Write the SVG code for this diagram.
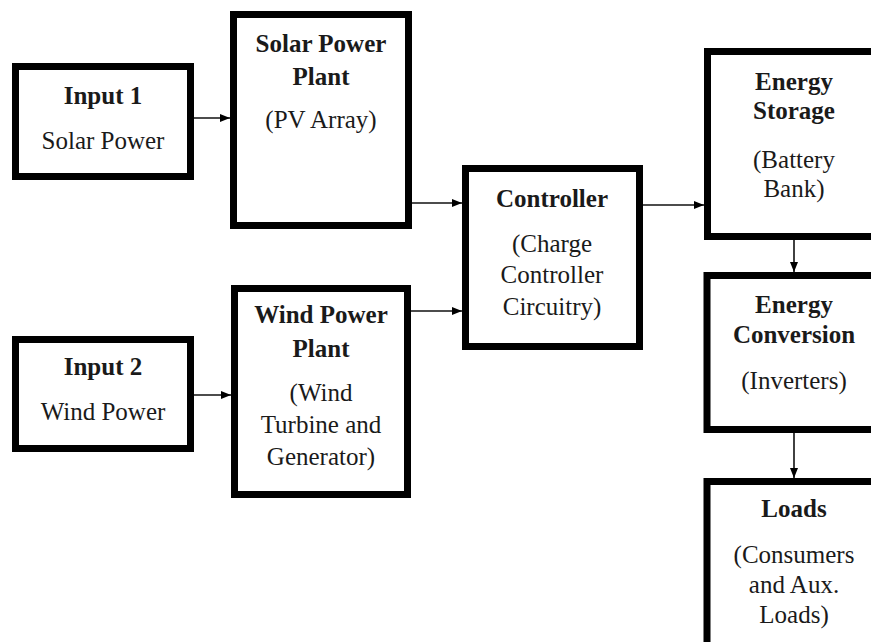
<svg xmlns="http://www.w3.org/2000/svg" width="871" height="642" viewBox="0 0 871 642">
<style>
.box{fill:#fff;stroke:#000;stroke-width:7}
.t text{font-size:25px;fill:#1a1a1a;text-anchor:middle}
.b{font-weight:bold}
.c{stroke:#111;stroke-width:1.6;fill:none;marker-end:url(#ah)}
</style>
<defs>
<marker id="ah" viewBox="0 0 10 8" refX="10" refY="4" markerWidth="10" markerHeight="8" markerUnits="userSpaceOnUse" orient="auto">
<path d="M0,0 L10,4 L0,8 Z" fill="#000"/>
</marker>
</defs>
<rect width="871" height="642" fill="#fff"/>
<g id="connectors">
<line class="c" x1="194" y1="118" x2="230" y2="118"/>
<line class="c" x1="412" y1="203" x2="462" y2="203"/>
<line class="c" x1="411" y1="311" x2="462" y2="311"/>
<line class="c" x1="194" y1="395" x2="231" y2="395"/>
<line class="c" x1="643" y1="205" x2="704" y2="205"/>
<line class="c" x1="794" y1="240" x2="794" y2="272"/>
<line class="c" x1="794" y1="433" x2="794" y2="478"/>
</g>
<g class="t" font-family="Liberation Serif, Times New Roman, serif">
<g id="input1">
<rect class="box" x="15.5" y="66.5" width="175" height="110"/>
<text class="b" x="103" y="104">Input 1</text>
<text x="103" y="149">Solar Power</text>
</g>
<g id="solar">
<rect class="box" x="233.5" y="14.5" width="175" height="211"/>
<text class="b" x="321" y="52">Solar Power</text>
<text class="b" x="321" y="85">Plant</text>
<text x="321" y="128">(PV Array)</text>
</g>
<g id="input2">
<rect class="box" x="15.5" y="339.5" width="175" height="109"/>
<text class="b" x="103" y="375">Input 2</text>
<text x="103" y="420">Wind Power</text>
</g>
<g id="wind">
<rect class="box" x="234.5" y="288.5" width="173" height="206"/>
<text class="b" x="321" y="323">Wind Power</text>
<text class="b" x="321" y="357">Plant</text>
<text x="321" y="401">(Wind</text>
<text x="321" y="433">Turbine and</text>
<text x="321" y="465">Generator)</text>
</g>
<g id="controller">
<rect class="box" x="465.5" y="168.5" width="174" height="178"/>
<text class="b" x="552" y="207">Controller</text>
<text x="552" y="252">(Charge</text>
<text x="552" y="283">Controller</text>
<text x="552" y="315">Circuitry)</text>
</g>
<g id="storage">
<rect class="box" x="707.5" y="51.5" width="180" height="185"/>
<text class="b" x="794" y="90">Energy</text>
<text class="b" x="794" y="119">Storage</text>
<text x="794" y="168">(Battery</text>
<text x="794" y="197">Bank)</text>
</g>
<g id="conversion">
<rect class="box" x="707" y="275.5" width="180" height="154"/>
<text class="b" x="794" y="313">Energy</text>
<text class="b" x="794" y="343">Conversion</text>
<text x="794" y="389">(Inverters)</text>
</g>
<g id="loads">
<rect class="box" x="707" y="481.5" width="180" height="200"/>
<text class="b" x="794" y="517">Loads</text>
<text x="794" y="563">(Consumers</text>
<text x="794" y="593">and Aux.</text>
<text x="794" y="623">Loads)</text>
</g>
</g>
</svg>
